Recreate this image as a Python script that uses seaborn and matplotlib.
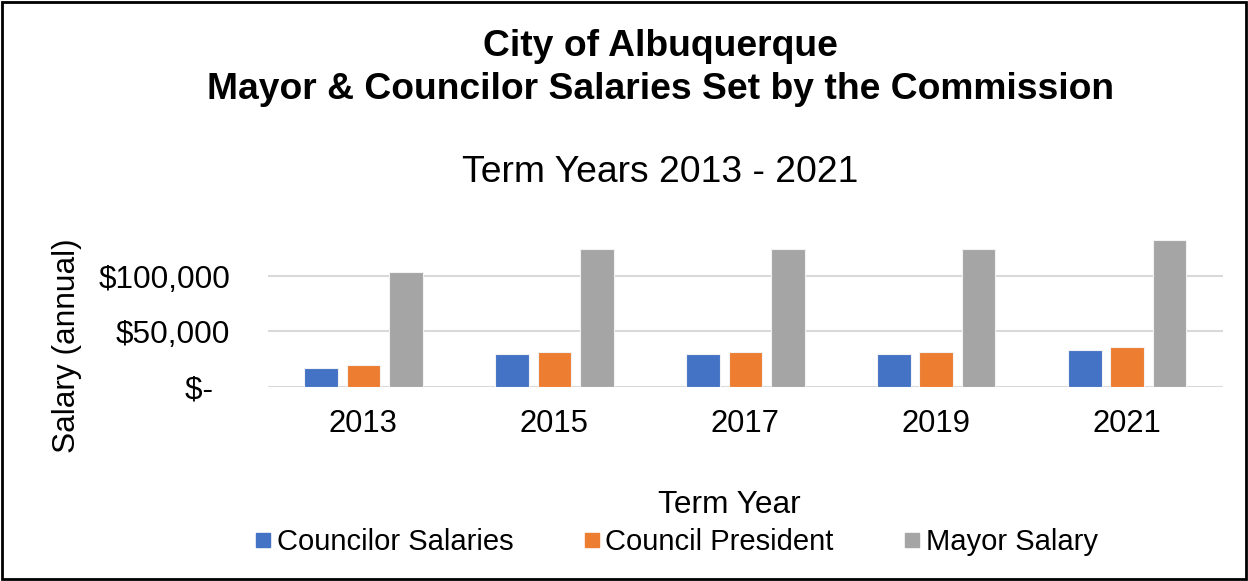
import matplotlib
matplotlib.use("Agg")
import matplotlib.pyplot as plt
import seaborn as sns
import pandas as pd
from matplotlib.patches import Rectangle
from matplotlib.lines import Line2D

years = ["2013", "2015", "2017", "2019", "2021"]
councilor = [17200, 29600, 29600, 29600, 33200]
president = [19300, 31700, 31700, 31700, 35600]
mayor = [103700, 124800, 124800, 124800, 132600]
series = ["Councilor Salaries", "Council President", "Mayor Salary"]
colors = ["#4472C4", "#ED7D31", "#A5A5A5"]
ytick_vals = [0, 50000, 100000]
ytick_labels = ["$-  ", "$50,000", "$100,000"]

rows = []
for name, vals in zip(series, [councilor, president, mayor]):
    for y, v in zip(years, vals):
        rows.append({"Term Year": y, "Series": name, "Salary": v})
df = pd.DataFrame(rows)

sns.set_theme(style="white")
plt.rcParams["font.family"] = ["Liberation Sans", "DejaVu Sans"]
plt.rcParams["text.color"] = "black"
plt.rcParams["xtick.color"] = "black"
plt.rcParams["ytick.color"] = "black"
plt.rcParams["axes.labelcolor"] = "black"

fig = plt.figure(figsize=(12.48, 5.81), dpi=100)
ax = fig.add_axes([0.2147, 0.3344, 0.765, 0.2665])

sns.barplot(data=df, x="Term Year", y="Salary", hue="Series", order=years,
            hue_order=series, palette=colors, saturation=1, width=0.667, gap=0.21,
            edgecolor="#F2F2F2", linewidth=0.8, legend=False, ax=ax, zorder=3)

ax.set_xlim(-0.5, 4.5)
ax.set_ylim(0, 140000)
ax.set_yticks(ytick_vals)
ax.set_yticklabels(ytick_labels)
for v in ytick_vals:
    ax.axhline(v, color="#D9D9D9", lw=1.5, zorder=1)
for s in ax.spines.values():
    s.set_visible(False)
ax.tick_params(axis="y", length=0, pad=27, labelsize=22.7, labelcolor="black")
ax.tick_params(axis="x", length=0, pad=16, labelsize=22.3, labelcolor="black")
ax.set_xlabel("")
ax.set_ylabel("")

fig.text(0.529, 0.920, "City of Albuquerque", ha="center", va="center",
         fontsize=26.8, fontweight="bold", color="black")
fig.text(0.529, 0.846, "Mayor & Councilor Salaries Set by the Commission",
         ha="center", va="center", fontsize=26.8, fontweight="bold", color="black")
fig.text(0.529, 0.703, "Term Years 2013 - 2021", ha="center", va="center",
         fontsize=26.8, color="black")
fig.text(0.054, 0.405, "Salary (annual)", ha="center", va="center",
         rotation=90, fontsize=22.8, color="black")
fig.text(0.5845, 0.131, "Term Year", ha="center", va="center", fontsize=22.8,
         color="black")

handles = [Line2D([0], [0], marker="s", linestyle="", markersize=9.5,
                  markerfacecolor=c, markeredgecolor=c) for c in colors]
fig.legend(handles, series, loc="center", bbox_to_anchor=(0.542, 0.067),
           ncol=3, frameon=False, fontsize=21, handlelength=0.55,
           handletextpad=0.2, columnspacing=2.4)

fig.patches.append(Rectangle((0.002, 0.003), 0.996, 0.994, transform=fig.transFigure,
                             fill=False, edgecolor="black", linewidth=2))

fig.savefig("out.png", dpi=100)
